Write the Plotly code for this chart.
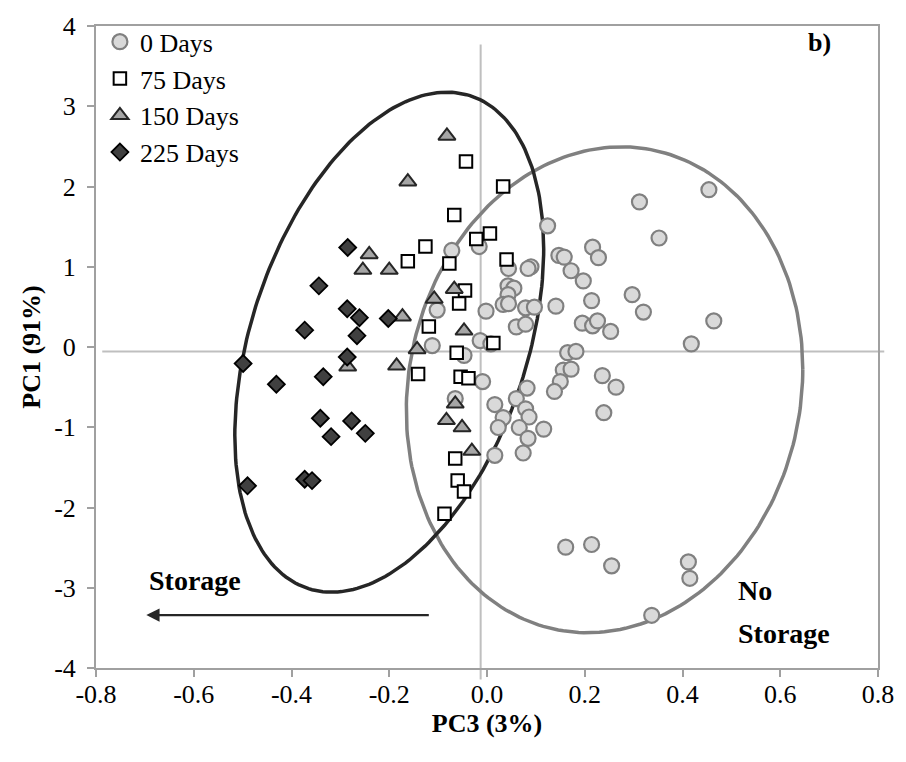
import numpy as np
import plotly.graph_objects as go

# ---------------- data (PC3, PC1) ----------------
d0_x = [0.312, 0.352, 0.124, 0.147, 0.158, 0.216, 0.228, -0.072, -0.016, 0.090, 0.454,
        0.297, 0.320, 0.464, 0.418, 0.253, 0.236, 0.264, 0.172, 0.197, 0.084, 0.044,
        0.043, 0.055, 0.043, 0.033, 0.044, 0.079, 0.097, 0.141, 0.214, 0.195, 0.216,
        0.226, 0.060, 0.079, -0.002, -0.102, -0.014, 0.008, -0.112, -0.047, 0.165,
        0.182, 0.156, 0.172, 0.150, 0.138, 0.239, -0.009, -0.065, 0.082, 0.060, 0.016,
        0.079, 0.086, 0.033, 0.023, 0.066, 0.116, 0.084, 0.074, 0.016, 0.161, 0.214,
        0.255, 0.412, 0.415, 0.337]
d0_y = [1.808, 1.358, 1.510, 1.142, 1.120, 1.244, 1.113, 1.203, 1.252, 1.000, 1.960,
        0.652, 0.435, 0.325, 0.039, 0.194, -0.357, -0.500, 0.950, 0.823, 0.978, 0.978,
        0.762, 0.733, 0.652, 0.530, 0.540, 0.488, 0.496, 0.509, 0.578, 0.297, 0.264,
        0.325, 0.251, 0.284, 0.447, 0.460, 0.080, 0.039, 0.018, -0.104, -0.071,
        -0.055, -0.288, -0.276, -0.431, -0.554, -0.819, -0.431, -0.643, -0.512, -0.643,
        -0.717, -0.770, -0.872, -0.880, -1.003, -1.003, -1.023, -1.138, -1.321, -1.350,
        -2.494, -2.461, -2.727, -2.678, -2.882, -3.343]

d75_x = [-0.043, 0.033, -0.067, 0.006, -0.022, -0.126, -0.162, -0.077, 0.040, -0.045,
         -0.057, -0.119, 0.013, -0.062, -0.141, -0.054, -0.038, -0.065, -0.060, -0.047,
         -0.087]
d75_y = [2.31, 2.00, 1.645, 1.415, 1.346, 1.252, 1.07, 1.04, 1.09, 0.705,
         0.541, 0.255, 0.051, -0.071, -0.337, -0.37, -0.39, -1.39, -1.664, -1.80,
         -2.077]

d150_x = [-0.082, -0.162, -0.241, -0.254, -0.200, -0.173, -0.067, -0.108, -0.047,
          -0.143, -0.185, -0.285, -0.065, -0.083, -0.051, -0.031]
d150_y = [2.63, 2.06, 1.154, 0.958, 0.958, 0.378, 0.720, 0.598, 0.202,
          -0.030, -0.235, -0.247, -0.708, -0.913, -1.003, -1.297]

d225_x = [-0.285, -0.344, -0.286, -0.261, -0.202, -0.373, -0.266, -0.286, -0.499,
          -0.335, -0.431, -0.341, -0.277, -0.319, -0.249, -0.373, -0.358, -0.490]
d225_y = [1.24, 0.762, 0.476, 0.365, 0.355, 0.210, 0.141, -0.125, -0.206,
          -0.370, -0.464, -0.888, -0.921, -1.117, -1.076, -1.648, -1.665, -1.730]

x_ticks = [-0.8, -0.6, -0.4, -0.2, 0.0, 0.2, 0.4, 0.6, 0.8]
x_tick_labels = ["-0.8", "-0.6", "-0.4", "-0.2", "0.0", "0.2", "0.4", "0.6", "0.8"]
y_ticks = [-4, -3, -2, -1, 0, 1, 2, 3, 4]
y_tick_labels = ["-4", "-3", "-2", "-1", "0", "1", "2", "3", "4"]

# ellipse parameters: centre x, centre y, x half-width, xy coupling, residual y half-height
ell_storage = (-0.200, 0.06, 0.316, 1.163, 2.89)
ell_nostorage = (0.2405, -0.533, 0.4056, 0.2567, 3.016)

# reference lines through the score plot
ref_x = -0.013
ref_y = -0.055

FONT = "Liberation Serif"

fig = go.Figure()


def ellipse(p):
    cx, cy, w, k, h = p
    t = np.linspace(0, 2 * np.pi, 241)
    return cx + w * np.cos(t), cy + k * np.cos(t) + h * np.sin(t)


ex, ey = ellipse(ell_nostorage)
fig.add_trace(go.Scatter(x=ex, y=ey, mode="lines", line=dict(color="#808080", width=3.5),
                         showlegend=False, hoverinfo="skip"))
ex, ey = ellipse(ell_storage)
fig.add_trace(go.Scatter(x=ex, y=ey, mode="lines", line=dict(color="#262626", width=3.5),
                         showlegend=False, hoverinfo="skip"))

fig.add_trace(go.Scatter(x=d0_x, y=d0_y, mode="markers", name="0 Days",
                         marker=dict(symbol="circle", size=15, color="#d9d9d9",
                                     line=dict(color="#808080", width=2.2))))
fig.add_trace(go.Scatter(x=d75_x, y=d75_y, mode="markers", name="75 Days",
                         marker=dict(symbol="square", size=12.5, color="#ffffff",
                                     line=dict(color="#000000", width=2))))
fig.add_trace(go.Scatter(x=d150_x, y=d150_y, mode="markers", name="150 Days",
                         marker=dict(symbol="triangle-up", size=15, color="#a6a6a6",
                                     line=dict(color="#262626", width=2))))
fig.add_trace(go.Scatter(x=d225_x, y=d225_y, mode="markers", name="225 Days",
                         marker=dict(symbol="diamond", size=13, color="#404040",
                                     line=dict(color="#000000", width=1.8))))

# reference lines (drawn behind)
fig.add_shape(type="line", xref="x", yref="paper", x0=ref_x, x1=ref_x, y0=0.971, y1=-0.018,
              line=dict(color="#bfbfbf", width=2), layer="below")
fig.add_shape(type="line", xref="paper", yref="y", x0=0.008, x1=1.008, y0=ref_y, y1=ref_y,
              line=dict(color="#bfbfbf", width=2), layer="below")

# arrow + texts
fig.add_annotation(x=-0.697, y=-3.34, ax=-0.116, ay=-3.34, xref="x", yref="y",
                   axref="x", ayref="y", text="", showarrow=True, arrowhead=2,
                   arrowsize=1.2, arrowwidth=2.2, arrowcolor="#262626")
fig.add_annotation(x=-0.597, y=-2.91, xref="x", yref="y", text="<b>Storage</b>",
                   showarrow=False, font=dict(family=FONT, size=28, color="#000000"))
fig.add_annotation(x=0.510, y=-3.03, xref="x", yref="y", text="<b>No</b>",
                   showarrow=False, xanchor="left",
                   font=dict(family=FONT, size=28, color="#000000"))
fig.add_annotation(x=0.510, y=-3.57, xref="x", yref="y", text="<b>Storage</b>",
                   showarrow=False, xanchor="left",
                   font=dict(family=FONT, size=28, color="#000000"))
fig.add_annotation(x=0.681, y=3.80, xref="x", yref="y", text="<b>b)</b>",
                   showarrow=False, font=dict(family=FONT, size=26, color="#000000"))

axis_common = dict(showgrid=False, zeroline=False, showline=True, linecolor="#a0a0a0",
                   linewidth=2, mirror=True, ticks="outside", ticklen=7, tickwidth=2,
                   tickcolor="#a0a0a0", tickfont=dict(family=FONT, size=26, color="#000000"))

fig.update_xaxes(range=[-0.8, 0.8], tickvals=x_ticks, ticktext=x_tick_labels,
                 ticklabelstandoff=-5,
                 title=dict(text="<b>PC3 (3%)</b>", font=dict(family=FONT, size=26, color="#000"),
                            standoff=0), **axis_common)
fig.update_yaxes(range=[-4, 4], tickvals=y_ticks, ticktext=y_tick_labels,
                 ticklabelstandoff=6,
                 title=dict(text="<b>PC1 (91%)</b>", font=dict(family=FONT, size=26, color="#000"),
                            standoff=6), **axis_common)

fig.update_layout(
    width=906, height=762,
    margin=dict(l=96, r=20, t=15, b=94),
    plot_bgcolor="#ffffff", paper_bgcolor="#ffffff",
    showlegend=True,
    legend=dict(x=0.005, y=1.012, xanchor="left", yanchor="top", bgcolor="rgba(0,0,0,0)",
                font=dict(family=FONT, size=26, color="#000000"), itemwidth=30,
                tracegroupgap=0),
    font=dict(family=FONT),
)

fig.write_html("out.html")
